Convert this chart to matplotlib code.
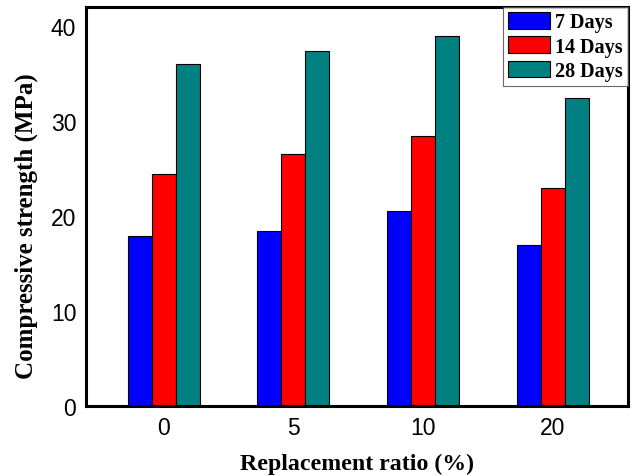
import matplotlib
matplotlib.use("Agg")
import matplotlib.pyplot as plt
import numpy as np

ratios = ["0", "5", "10", "20"]
days_7 = [17.9, 18.4, 20.5, 17.0]
days_14 = [24.4, 26.5, 28.4, 23.0]
days_28 = [36.0, 37.4, 39.0, 32.4]
series_labels = ["7 Days", "14 Days", "28 Days"]
colors = ["#0000FF", "#FF0000", "#008080"]

fig = plt.figure(figsize=(6.33, 4.77), dpi=100)
ax = fig.add_axes([86 / 633, 1 - 407 / 477, (628 - 86) / 633, (407 - 8) / 477])

x = np.arange(len(ratios))
w = 0.185
for i, (vals, lab, c) in enumerate(zip([days_7, days_14, days_28], series_labels, colors)):
    ax.bar(x + (i - 1) * w, vals, width=w, color=c, edgecolor="black",
           linewidth=0.8, label=lab)

ax.set_xlim(-0.6, 3.58)
ax.set_ylim(0, 42)
ax.set_yticks([0, 10, 20, 30, 40])
ax.set_xticks(x)
ax.set_xticklabels(ratios)
ax.tick_params(length=0, labelsize=16.5, pad=7)
for lab in ax.get_xticklabels() + ax.get_yticklabels():
    lab.set_family("Liberation Sans")
for s in ax.spines.values():
    s.set_linewidth(2.2)

ax.set_xlabel("Replacement ratio (%)", family="Liberation Serif", weight="bold", size=17.2)
ax.set_ylabel("Compressive strength (MPa)", family="Liberation Serif", weight="bold", size=18)
ax.xaxis.set_label_coords(0.5, -0.118)
ax.yaxis.set_label_coords(-0.089, 0.454)

leg = ax.legend(loc="upper right", prop=dict(family="Liberation Serif", weight="bold", size=14.5),
                frameon=True, fancybox=False, edgecolor="#444444", borderaxespad=0,
                handlelength=2.1, handleheight=0.9, handletextpad=0.25,
                labelspacing=0.2, borderpad=0.25)
leg.get_frame().set_linewidth(0.8)

fig.savefig("out.png", dpi=100)
